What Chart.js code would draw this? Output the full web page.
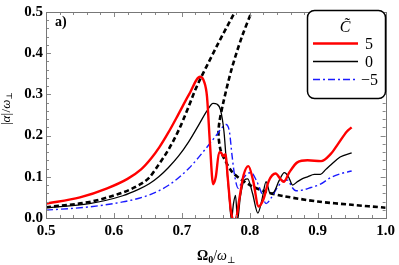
<!DOCTYPE html>
<html>
<head>
<meta charset="utf-8">
<script src="https://cdn.jsdelivr.net/npm/chart.js@4.4.0/dist/chart.umd.min.js"></script>
<style>
html, body { margin: 0; padding: 0; background: #fff; }
</style>
</head>
<body>
<canvas id="chart" width="399" height="265"></canvas>
<script>
// values
const xTicks = [0.5, 0.6, 0.7, 0.8, 0.9, 1.0];
const yTicks = [0.0, 0.1, 0.2, 0.3, 0.4, 0.5];

// C = 5
const redX = [0.50, 0.55, 0.59, 0.62, 0.64, 0.655, 0.667, 0.68, 0.695, 0.71, 0.727, 0.733, 0.737, 0.7415, 0.746, 0.750, 0.755, 0.758, 0.761, 0.764, 0.768, 0.772, 0.776, 0.780, 0.785, 0.791, 0.798, 0.805, 0.813, 0.82, 0.828, 0.838, 0.845, 0.850, 0.858, 0.870, 0.885, 0.905, 0.919, 0.93, 0.943, 0.95];
const redY = [0.035, 0.05, 0.072, 0.095, 0.118, 0.145, 0.172, 0.207, 0.252, 0.298, 0.343, 0.33, 0.295, 0.177, 0.082, 0.10, 0.16, 0.158, 0.15, 0.155, 0.09, 0.02, -0.005, 0.0, 0.05, 0.105, 0.126, 0.09, 0.028, 0.045, 0.09, 0.108, 0.095, 0.088, 0.11, 0.135, 0.14, 0.138, 0.155, 0.18, 0.21, 0.22];

// C = 0
const blackX = [0.50, 0.564, 0.613, 0.637, 0.652, 0.666, 0.68, 0.695, 0.71, 0.7245, 0.737, 0.746, 0.752, 0.757, 0.762, 0.766, 0.770, 0.773, 0.776, 0.779, 0.782, 0.786, 0.792, 0.797, 0.804, 0.812, 0.818, 0.824, 0.83, 0.835, 0.843, 0.851, 0.857, 0.863, 0.87, 0.877, 0.885, 0.895, 0.904, 0.912, 0.92, 0.933, 0.95];
const blackY = [0.025, 0.035, 0.054, 0.07, 0.083, 0.1, 0.122, 0.15, 0.185, 0.225, 0.26, 0.278, 0.276, 0.262, 0.21, 0.125, 0.045, -0.005, 0.035, 0.055, -0.005, 0.05, 0.092, 0.095, 0.06, 0.012, 0.045, 0.088, 0.06, 0.062, 0.09, 0.11, 0.1, 0.08, 0.088, 0.095, 0.1, 0.106, 0.106, 0.118, 0.13, 0.148, 0.158];

// C = -5
const blueX = [0.50, 0.564, 0.613, 0.637, 0.652, 0.681, 0.71, 0.734, 0.749, 0.758, 0.765, 0.770, 0.774, 0.778, 0.783, 0.79, 0.797, 0.802, 0.81, 0.817, 0.824, 0.832, 0.841, 0.849, 0.856, 0.862, 0.868, 0.878, 0.89, 0.904, 0.919, 0.935, 0.95];
const blueY = [0.019, 0.027, 0.039, 0.048, 0.056, 0.08, 0.12, 0.166, 0.197, 0.217, 0.227, 0.21, 0.15, 0.1, 0.072, 0.095, 0.108, 0.11, 0.09, 0.062, 0.035, 0.05, 0.075, 0.09, 0.092, 0.075, 0.066, 0.068, 0.074, 0.082, 0.098, 0.108, 0.114];

// dashed reference curves
const dashAX = [0.50, 0.564, 0.613, 0.637, 0.652, 0.666, 0.68, 0.695, 0.708, 0.72, 0.727, 0.737, 0.757, 0.778, 0.79];
const dashAY = [0.026, 0.039, 0.062, 0.08, 0.098, 0.13, 0.165, 0.212, 0.262, 0.312, 0.337, 0.37, 0.435, 0.5, 0.54];
const dashBX = [0.805, 0.788, 0.773, 0.761, 0.755, 0.754, 0.757, 0.763, 0.775, 0.80, 0.825, 0.85, 0.90, 0.95, 1.0];
const dashBY = [0.51, 0.438, 0.36, 0.28, 0.23, 0.2, 0.165, 0.142, 0.11, 0.08, 0.063, 0.053, 0.04, 0.032, 0.025];

const legendLabels = ['5', '0', '\u22125'];

function pts(xs, ys) {
  return xs.map((v, i) => ({ x: v, y: ys[i] }));
}

const serif = "'Times New Roman', 'Liberation Serif', Tinos, 'DejaVu Serif', serif";

// frame with inward ticks on all four sides
const frameTicks = {
  id: 'frameTicks',
  afterDatasetsDraw(chart) {
    const { ctx, chartArea: a, scales: { x, y } } = chart;
    ctx.save();
    ctx.strokeStyle = '#888';
    ctx.lineWidth = 1;
    ctx.beginPath();
    for (let i = 0; i <= 25; i++) {
      const px = Math.round(x.getPixelForValue(0.5 + i * 0.02)) + 0.5;
      const len = i % 5 === 0 ? 5 : 3;
      ctx.moveTo(px, a.bottom); ctx.lineTo(px, a.bottom - len);
      ctx.moveTo(px, a.top); ctx.lineTo(px, a.top + len);
    }
    for (let i = 0; i <= 25; i++) {
      const py = Math.round(y.getPixelForValue(i * 0.02)) + 0.5;
      const len = i % 5 === 0 ? 5 : 3;
      ctx.moveTo(a.left, py); ctx.lineTo(a.left + len, py);
      ctx.moveTo(a.right, py); ctx.lineTo(a.right - len, py);
    }
    ctx.stroke();
    ctx.strokeStyle = '#777';
    ctx.strokeRect(Math.round(a.left) + 0.5, Math.round(a.top) + 0.5,
      Math.round(a.right - a.left), Math.round(a.bottom - a.top));
    ctx.restore();
  }
};

// legend box, panel label and axis titles
const extras = {
  id: 'extras',
  afterDraw(chart) {
    const { ctx, chartArea: a } = chart;
    ctx.save();

    // panel label
    ctx.fillStyle = '#000';
    ctx.font = 'bold 14px ' + serif;
    ctx.textBaseline = 'alphabetic';
    ctx.fillText('a)', a.left + 9, 26);

    // legend
    const bx = 307.5, by = 10.5, bw = 78, bh = 88, r = 7;
    ctx.beginPath();
    ctx.moveTo(bx + r, by);
    ctx.arcTo(bx + bw, by, bx + bw, by + bh, r);
    ctx.arcTo(bx + bw, by + bh, bx, by + bh, r);
    ctx.arcTo(bx, by + bh, bx, by, r);
    ctx.arcTo(bx, by, bx + bw, by, r);
    ctx.closePath();
    ctx.fillStyle = '#fff';
    ctx.fill();
    ctx.strokeStyle = '#000';
    ctx.lineWidth = 1.5;
    ctx.stroke();

    ctx.fillStyle = '#000';
    ctx.font = 'italic 16px ' + serif;
    ctx.textAlign = 'center';
    ctx.fillText('C\u0303', 345, 32);

    const sets = chart.data.datasets;
    const rows = [43.5, 61.5, 79.5];
    ctx.textAlign = 'left';
    ctx.textBaseline = 'middle';
    ctx.font = '16px ' + serif;
    for (let i = 0; i < 3; i++) {
      const ds = sets[i];
      ctx.beginPath();
      ctx.strokeStyle = ds.borderColor;
      ctx.lineWidth = ds.borderWidth;
      ctx.setLineDash(ds.borderDash || []);
      ctx.moveTo(313, rows[i]);
      ctx.lineTo(358, rows[i]);
      ctx.stroke();
      ctx.setLineDash([]);
      ctx.fillText(legendLabels[i], i === 2 ? 361 : 365, rows[i] + 1);
    }

    // x title: Omega_0 / omega_perp
    ctx.textBaseline = 'alphabetic';
    ctx.textAlign = 'left';
    let tx = 197, ty = 260;
    ctx.font = 'bold 14px ' + serif;
    ctx.fillText('\u03A9', tx, ty); tx += ctx.measureText('\u03A9').width;
    ctx.font = 'bold 10px ' + serif;
    ctx.fillText('0', tx, ty + 3); tx += ctx.measureText('0').width;
    ctx.font = '14px ' + serif;
    ctx.fillText('/', tx, ty); tx += ctx.measureText('/').width;
    ctx.font = 'italic 14px ' + serif;
    ctx.fillText('\u03C9', tx, ty); tx += ctx.measureText('\u03C9').width;
    ctx.font = '9px ' + serif;
    ctx.fillText('\u22A5', tx, ty + 3);

    // y title: |alpha| / omega_perp (rotated)
    ctx.translate(10, 125);
    ctx.rotate(-Math.PI / 2);
    tx = 0; ty = 0;
    ctx.font = '13px ' + serif;
    ctx.fillText('|', tx, ty); tx += ctx.measureText('|').width;
    ctx.font = 'italic 13px ' + serif;
    ctx.fillText('\u03B1', tx, ty); tx += ctx.measureText('\u03B1').width;
    ctx.font = '13px ' + serif;
    ctx.fillText('|', tx, ty); tx += ctx.measureText('|').width + 0.5;
    ctx.fillText('/', tx, ty); tx += ctx.measureText('/').width;
    ctx.font = 'italic 13px ' + serif;
    ctx.fillText('\u03C9', tx, ty); tx += ctx.measureText('\u03C9').width;
    ctx.font = '8px ' + serif;
    ctx.fillText('\u22A5', tx, ty + 2);

    ctx.restore();
  }
};

const line = { type: 'scatter', showLine: true, pointRadius: 0, clip: 0, fill: false };

new Chart(document.getElementById('chart'), {
  type: 'scatter',
  data: {
    datasets: [
      Object.assign({}, line, { label: '5', data: pts(redX, redY), borderColor: '#ff0000', borderWidth: 2.4, cubicInterpolationMode: 'monotone' }),
      Object.assign({}, line, { label: '0', data: pts(blackX, blackY), borderColor: '#000000', borderWidth: 1.3, cubicInterpolationMode: 'monotone' }),
      Object.assign({}, line, { label: '-5', data: pts(blueX, blueY), borderColor: '#1a1aff', borderWidth: 1.4, borderDash: [7, 3, 2, 3], cubicInterpolationMode: 'monotone' }),
      Object.assign({}, line, { label: 'ref1', data: pts(dashAX, dashAY), borderColor: '#000000', borderWidth: 2.6, borderDash: [5, 3], cubicInterpolationMode: 'monotone' }),
      Object.assign({}, line, { label: 'ref2', data: pts(dashBX, dashBY), borderColor: '#000000', borderWidth: 2.6, borderDash: [5, 3], tension: 0.3 })
    ]
  },
  options: {
    responsive: false,
    animation: false,
    layout: { padding: { left: 0, right: 10, top: 7, bottom: 0 } },
    plugins: { legend: { display: false }, tooltip: { enabled: false } },
    scales: {
      x: {
        type: 'linear', min: 0.5, max: 1.0,
        afterFit(s) { s.height = 47; },
        afterBuildTicks(s) { s.ticks = xTicks.map(v => ({ value: v })); },
        grid: { display: false, drawTicks: false },
        border: { display: false },
        ticks: {
          padding: 4, color: '#000',
          font: { family: serif, size: 15, weight: 'bold' },
          callback: v => v.toFixed(1)
        }
      },
      y: {
        type: 'linear', min: 0.0, max: 0.5,
        afterFit(s) { s.width = 46; },
        afterBuildTicks(s) { s.ticks = yTicks.map(v => ({ value: v })); },
        grid: { display: false, drawTicks: false },
        border: { display: false },
        ticks: {
          padding: 3, color: '#000',
          font: { family: serif, size: 15, weight: 'bold' },
          callback: v => v.toFixed(1)
        }
      }
    }
  },
  plugins: [frameTicks, extras]
});
</script>
</body>
</html>
